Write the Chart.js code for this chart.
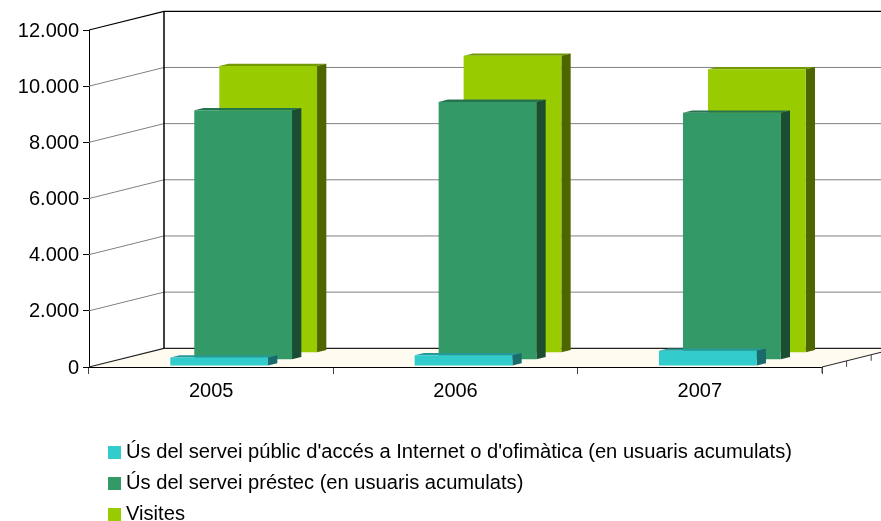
<!DOCTYPE html>
<html>
<head>
<meta charset="utf-8">
<style>
    html, body { margin: 0; padding: 0; background: #fff; overflow: hidden; }
    #wrap { position: relative; width: 881px; height: 521px; }
    #legend { position: absolute; left: 108px; top: 436px; font: 20.15px "Liberation Sans", Arial, sans-serif; color: #000; }
    #legend div { height: 31px; line-height: 31px; white-space: nowrap; }
    #legend span { display: inline-block; width: 13px; height: 13px; margin-right: 5px; vertical-align: -1px; }
</style>
</head>
<body>
<div id="wrap">
    <canvas id="chart" width="881" height="521"></canvas>
    <div id="legend"></div>
</div>
<script src="https://cdn.jsdelivr.net/npm/chart.js@4"></script>
<script>
const years = ['2005', '2006', '2007'];
const usInternet = [300, 380, 540];
const usPrestec = [8880, 9180, 8790];
const visites = [10210, 10570, 10095];
const seriesNames = [
    "Ús del servei públic d'accés a Internet o d'ofimàtica (en usuaris acumulats)",
    'Ús del servei préstec (en usuaris acumulats)',
    'Visites'
];

const FRONT = ['#33CCCC', '#339966', '#99CC00'];
const TOP = ['#269999', '#267350', '#739900'];
const SIDE = ['#1A6B6B', '#1A4D33', '#4D6600'];

// offset of each series inside the fake 3D box
const SHIFT = [[8, -1], [32, -7.3], [57, -14.3]];
const BAR_DX = 9.3;
const BAR_DY = 2.3;
const WALL_DX = 75;
const WALL_DY = 18.7;

// walls, floor and grid of the 3D box
const boxPlugin = {
    id: 'box',
    beforeDatasetsDraw(chart) {
        const { ctx, chartArea: a, scales: { y } } = chart;
        const x0 = a.left, x1 = a.right, yb = a.bottom;

        const line = (pts, color, width) => {
            ctx.beginPath();
            pts.forEach((p, i) => i ? ctx.lineTo(p[0], p[1]) : ctx.moveTo(p[0], p[1]));
            ctx.strokeStyle = color;
            ctx.lineWidth = width;
            ctx.stroke();
        };

        ctx.save();
        // floor
        ctx.beginPath();
        ctx.moveTo(x0, yb);
        ctx.lineTo(x1, yb);
        ctx.lineTo(x1 + WALL_DX, yb - WALL_DY);
        ctx.lineTo(x0 + WALL_DX, yb - WALL_DY);
        ctx.closePath();
        ctx.fillStyle = '#FFFBF0';
        ctx.fill();

        y.ticks.forEach(t => {
            const py = y.getPixelForValue(t.value);
            let color = '#808080';
            if (t.value === 0) color = '#222';
            if (t.value === y.max) color = '#000';
            line([[x0, py], [x0 + WALL_DX, py - WALL_DY], [x1 + WALL_DX, py - WALL_DY]], color, t.value === 0 || t.value === y.max ? 1.2 : 1);
        });

        // back corner
        line([[x0 + WALL_DX, y.getPixelForValue(y.max) - WALL_DY], [x0 + WALL_DX, yb - WALL_DY]], '#000', 1.5);

        // depth axis at the right of the floor
        line([[x1, yb], [x1 + WALL_DX, yb - WALL_DY]], '#222', 1);
        [0, 1, 2].forEach(i => {
            const px = x1 + i * 24.6, py = yb - i * 6.1;
            line([[px, py], [px, py + 6]], '#444', 1);
        });
        ctx.restore();
    },
    beforeDatasetDraw(chart, args) {
        const { ctx } = chart;
        const i = args.index;
        ctx.save();
        ctx.translate(SHIFT[i][0], SHIFT[i][1]);
        args.meta.data.forEach(bar => {
            const { x, y, base, width } = bar.getProps(['x', 'y', 'base', 'width']);
            const l = x - width / 2, r = x + width / 2;
            // top face
            ctx.beginPath();
            ctx.moveTo(l, y);
            ctx.lineTo(l + BAR_DX, y - BAR_DY);
            ctx.lineTo(r + BAR_DX, y - BAR_DY);
            ctx.lineTo(r, y);
            ctx.closePath();
            ctx.fillStyle = TOP[i];
            ctx.fill();
            // right face
            ctx.beginPath();
            ctx.moveTo(r, y);
            ctx.lineTo(r + BAR_DX, y - BAR_DY);
            ctx.lineTo(r + BAR_DX, base - BAR_DY);
            ctx.lineTo(r, base);
            ctx.closePath();
            ctx.fillStyle = SIDE[i];
            ctx.fill();
        });
    },
    afterDatasetDraw(chart) {
        chart.ctx.restore();
    }
};

const allValues = [usInternet, usPrestec, visites];
const FONT = { family: '"Liberation Sans", Arial, sans-serif', size: 20 };

new Chart(document.getElementById('chart'), {
    type: 'bar',
    data: {
        labels: years,
        datasets: allValues.map((values, i) => ({
            label: seriesNames[i],
            data: values,
            backgroundColor: FRONT[i],
            borderWidth: 0,
            clip: false
        }))
    },
    options: {
        responsive: false,
        animation: false,
        layout: { padding: { top: 30, right: 59 } },
        plugins: {
            legend: { display: false },
            tooltip: { enabled: false }
        },
        datasets: {
            bar: { grouped: false, barPercentage: 0.4, categoryPercentage: 1 }
        },
        scales: {
            x: {
                afterFit: scale => { scale.height = 154; },
                grid: { drawOnChartArea: false, color: '#444', tickLength: 7 },
                border: { color: '#000', width: 1 },
                ticks: { color: '#000', font: FONT, padding: 5, maxRotation: 0 }
            },
            y: {
                min: 0,
                max: 12000,
                afterFit: scale => { scale.width = 89; },
                grid: { drawOnChartArea: false, color: '#000', tickLength: 6 },
                border: { color: '#000', width: 1 },
                ticks: {
                    color: '#000',
                    font: FONT,
                    padding: 4,
                    labelOffset: 1,
                    stepSize: 2000,
                    callback: value => String(value).replace(/\B(?=(\d{3})+$)/, '.')
                }
            }
        }
    },
    plugins: [boxPlugin]
});

const legendEl = document.getElementById('legend');
seriesNames.forEach((name, i) => {
    const row = document.createElement('div');
    const box = document.createElement('span');
    box.style.background = FRONT[i];
    row.appendChild(box);
    row.appendChild(document.createTextNode(name));
    legendEl.appendChild(row);
});
</script>
</body>
</html>
